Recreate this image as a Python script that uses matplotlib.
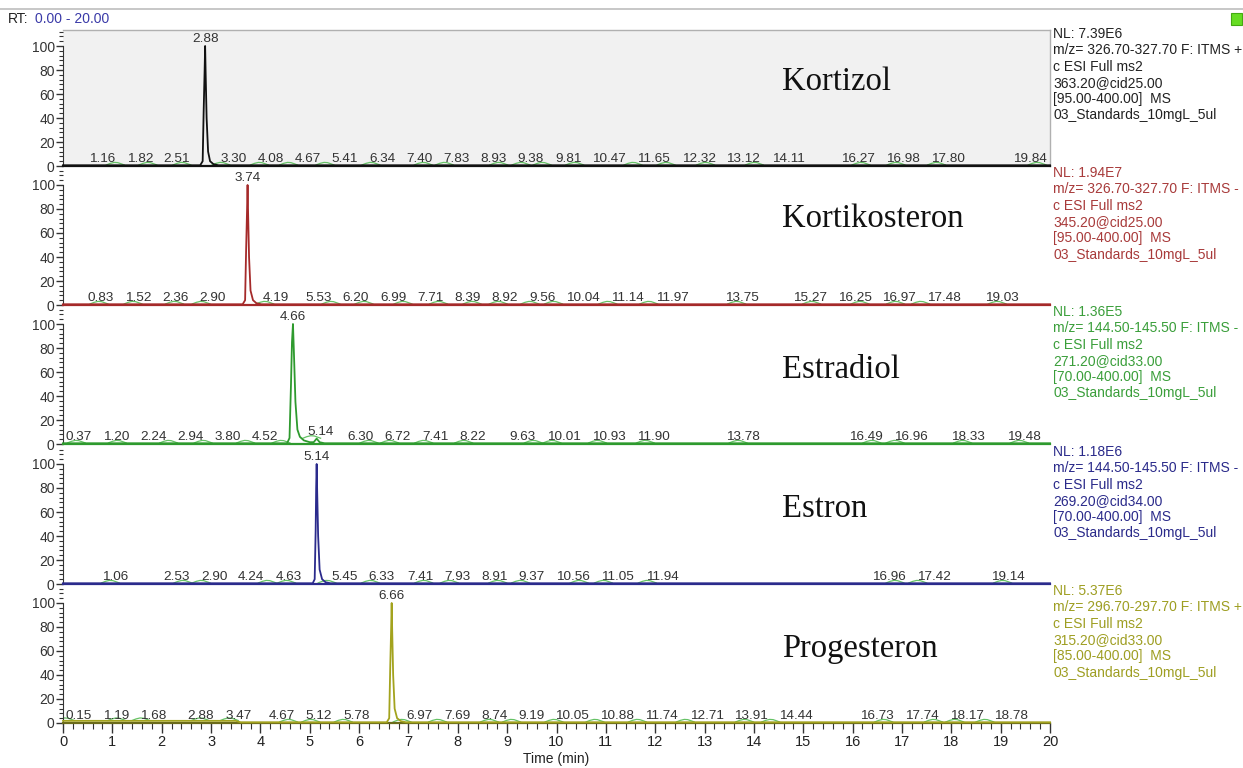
import numpy as np
import matplotlib
matplotlib.use("Agg")
import matplotlib.pyplot as plt
from matplotlib.ticker import MultipleLocator
from matplotlib.lines import Line2D
from matplotlib.patches import Rectangle

# ---------------- data ----------------
names = ["Kortizol", "Kortikosteron", "Estradiol", "Estron", "Progesteron"]
name_y = [70, 72, 62, 63, 62]
colors = ["#111111", "#a52a2a", "#2e9a2e", "#2b2b8c", "#a3a31e"]
info_colors = ["#222222", "#a83a3a", "#3a9e3a", "#2a2a8a", "#9e9e22"]

main_rt = [2.88, 3.74, 4.66, 5.14, 6.66]

labels_1 = [1.16, 1.82, 2.51, 3.30, 4.08, 4.67, 5.41, 6.34, 7.40, 7.83, 8.93, 9.38,
            9.81, 10.47, 11.65, 12.32, 13.12, 14.11, 16.27, 16.98, 17.80, 19.84]
labels_2 = [0.83, 1.52, 2.36, 2.90, 4.19, 5.53, 6.20, 6.99, 7.71, 8.39, 8.92, 9.56,
            10.04, 11.14, 11.97, 13.75, 15.27, 16.25, 16.97, 17.48, 19.03]
labels_3 = [0.37, 1.20, 2.24, 2.94, 3.80, 4.52, 5.14, 6.30, 6.72, 7.41, 8.22, 9.63,
            10.01, 10.93, 11.90, 13.78, 16.49, 16.96, 18.33, 19.48]
labels_4 = [1.06, 2.53, 2.90, 4.24, 4.63, 5.45, 6.33, 7.41, 7.93, 8.91, 9.37, 10.56,
            11.05, 11.94, 16.96, 17.42, 19.14]
labels_5 = [0.15, 1.19, 1.68, 2.88, 3.47, 4.67, 5.12, 5.78, 6.97, 7.69, 8.74, 9.19,
            10.05, 10.88, 11.74, 12.71, 13.91, 14.44, 16.73, 17.74, 18.17, 18.78]
small_labels = [labels_1, labels_2, labels_3, labels_4, labels_5]

# chromatogram traces (time in min, relative abundance %)
t1 = [0, 2.78, 2.83, 2.85, 2.87, 2.88, 2.89, 2.91, 2.94, 2.98, 3.05, 3.15, 20]
i1 = [0.6, 0.6, 4, 45, 80, 100, 78, 40, 12, 4, 1.5, 0.6, 0.6]
t2 = [0, 3.64, 3.69, 3.71, 3.73, 3.74, 3.75, 3.77, 3.80, 3.85, 3.92, 4.02, 20]
i2 = [0.6, 0.6, 4, 45, 80, 100, 78, 40, 12, 4, 1.5, 0.6, 0.6]
t3 = [0, 4.54, 4.59, 4.62, 4.64, 4.66, 4.68, 4.71, 4.75, 4.80, 4.88, 5.00,
      5.08, 5.14, 5.20, 5.30, 20]
i3 = [0.6, 0.6, 5, 50, 85, 100, 75, 35, 12, 6, 3, 1.5, 1.5, 4.5, 1.5, 0.6, 0.6]
t4 = [0, 5.06, 5.10, 5.12, 5.13, 5.14, 5.15, 5.17, 5.20, 5.25, 5.32, 5.42, 20]
i4 = [0.6, 0.6, 4, 45, 80, 100, 78, 40, 12, 4, 1.5, 0.6, 0.6]
t5 = [0, 3.50, 3.60, 6.56, 6.61, 6.63, 6.65, 6.66, 6.67, 6.69, 6.72, 6.77, 6.85, 6.95, 20]
i5 = [1.8, 1.8, 0.6, 0.6, 4, 45, 80, 100, 78, 40, 12, 4, 1.5, 0.6, 0.6]
traces_t = [t1, t2, t3, t4, t5]
traces_i = [i1, i2, i3, i4, i5]

info = [
    ["NL: 7.39E6", "m/z= 326.70-327.70 F: ITMS +", "c ESI Full ms2",
     "363.20@cid25.00", "[95.00-400.00]  MS", "03_Standards_10mgL_5ul"],
    ["NL: 1.94E7", "m/z= 326.70-327.70 F: ITMS -", "c ESI Full ms2",
     "345.20@cid25.00", "[95.00-400.00]  MS", "03_Standards_10mgL_5ul"],
    ["NL: 1.36E5", "m/z= 144.50-145.50 F: ITMS -", "c ESI Full ms2",
     "271.20@cid33.00", "[70.00-400.00]  MS", "03_Standards_10mgL_5ul"],
    ["NL: 1.18E6", "m/z= 144.50-145.50 F: ITMS -", "c ESI Full ms2",
     "269.20@cid34.00", "[70.00-400.00]  MS", "03_Standards_10mgL_5ul"],
    ["NL: 5.37E6", "m/z= 296.70-297.70 F: ITMS +", "c ESI Full ms2",
     "315.20@cid33.00", "[85.00-400.00]  MS", "03_Standards_10mgL_5ul"],
]

# ---------------- layout ----------------
W, H = 1243, 768
fig = plt.figure(figsize=(W / 100, H / 100), dpi=100)
fig.patch.set_facecolor("white")
plt.rcParams["font.family"] = ["Liberation Sans", "DejaVu Sans"]

x0_px, x1_px = 63, 1050
px_per_min = (x1_px - x0_px) / 20.0
baselines = [166, 305, 444, 584, 723]
panel_h = 136
ytop = 100 * panel_h / 120.0

label_fs = 9.7
label_color = "#333333"
squig_dx = np.array([-0.28, -0.2, -0.12, -0.05, 0.02, 0.08])
squig_dy = np.array([0.3, 1.6, 2.4, 2.2, 1.2, 0.3])


def text_width_min(s):
    em = label_fs * 100 / 72.0
    w = sum(0.278 * em if c == "." else 0.556 * em for c in s)
    return w / px_per_min


def layout_labels(values, obstacle):
    """Spread labels so they do not overlap each other or the main peak."""
    vals = list(values)
    texts = [f"{v:.2f}" for v in vals]
    widths = [text_width_min(t) for t in texts]
    items = [[v, w, False] for v, w in zip(vals, widths)]
    items.append([obstacle, 8 / px_per_min, True])
    order = sorted(range(len(items)), key=lambda i: items[i][0])
    pos = [items[i][0] for i in order]
    wid = [items[i][1] for i in order]
    fixed = [items[i][2] for i in order]
    gap = 11 / px_per_min
    for _ in range(600):
        moved = False
        for j in range(len(pos) - 1):
            need = (wid[j] + wid[j + 1]) / 2 + gap
            d = pos[j + 1] - pos[j]
            if d < need - 1e-6:
                ov = need - d
                if fixed[j]:
                    pos[j + 1] += ov
                elif fixed[j + 1]:
                    pos[j] -= ov
                else:
                    pos[j] -= ov / 2
                    pos[j + 1] += ov / 2
                moved = True
        for j in range(len(pos)):
            if not fixed[j]:
                lo = wid[j] / 2 + 3 / px_per_min
                hi = 20 - wid[j] / 2 - 3 / px_per_min
                pos[j] = min(max(pos[j], lo), hi)
        if not moved:
            break
    out = {}
    for k, i in enumerate(order):
        if not items[i][2]:
            out[i] = pos[k]
    return [out[i] for i in range(len(vals))]


for k in range(5):
    b = baselines[k]
    ax = fig.add_axes([x0_px / W, 1 - b / H, (x1_px - x0_px) / W, panel_h / H])
    ax.set_xlim(0, 20)
    ax.set_ylim(0, ytop)
    if k == 0:
        ax.set_facecolor("#f1f1f1")
        for s in ["top", "right"]:
            ax.spines[s].set_color("#b0b0b0")
            ax.spines[s].set_linewidth(1.0)
    else:
        ax.set_facecolor("none")
        ax.spines["top"].set_visible(False)
        ax.spines["right"].set_visible(False)
    ax.spines["left"].set_bounds(0, 100)
    ax.spines["left"].set_color("#333333")
    ax.spines["bottom"].set_color(colors[k] if k < 4 else "#6b6b1a")
    ax.spines["bottom"].set_linewidth(1.6)

    ax.yaxis.set_minor_locator(MultipleLocator(4))
    ax.set_yticks([0, 20, 40, 60, 80, 100])
    ax.tick_params(axis="y", which="major", length=5, width=1, color="#333333",
                   labelsize=10, labelcolor="#333333", pad=1)
    ax.tick_params(axis="y", which="minor", length=3, width=0.8, color="#333333")

    if k < 4:
        ax.tick_params(axis="x", which="both", bottom=False, labelbottom=False)
    else:
        ax.xaxis.set_major_locator(MultipleLocator(1))
        ax.xaxis.set_minor_locator(MultipleLocator(0.2))
        ax.tick_params(axis="x", which="major", length=7, width=1, color="#333333",
                       labelsize=10.5, labelcolor="#222222", pad=2)
        ax.tick_params(axis="x", which="minor", length=4, width=0.8, color="#333333")

    tt = np.array(traces_t[k])
    ii = np.array(traces_i[k])
    ax.plot(tt, ii, color=colors[k], lw=1.3, clip_on=False, zorder=3)

    # small peak markers and labels
    lab_x = layout_labels(small_labels[k], main_rt[k])
    for v, lx in zip(small_labels[k], lab_x):
        base = np.interp(v, tt, ii)
        ax.plot(v + squig_dx, base + squig_dy, color="#66c266", lw=0.9, zorder=2)
        ly = 1.2 if base < 2 else base + 0.6
        ax.text(lx, ly, f"{v:.2f}", ha="center", va="bottom",
                fontsize=label_fs, color=label_color, zorder=4)
    # main peak label
    ax.text(main_rt[k], 101, f"{main_rt[k]:.2f}", ha="center", va="bottom",
            fontsize=label_fs, color=label_color, zorder=4)

    # compound name
    ax.text((782 - x0_px) / px_per_min, name_y[k], names[k],
            ha="left", va="center", fontsize=23.5,
            family=["Liberation Serif", "DejaVu Serif"], color="#111111")

    # info text block on the right
    for j, line in enumerate(info[k]):
        fig.text(1053 / W, 1 - (b - 132 + j * 16.3) / H, line, ha="left", va="center",
                 fontsize=10, color=info_colors[k])

# x-axis title
fig.text(556 / W, 1 - 759 / H, "Time (min)", ha="center", va="center",
         fontsize=10, color="#222222")

# header
fig.add_artist(Line2D([0, 1], [1 - 9 / H, 1 - 9 / H], color="#bdbdbd", lw=1.2))
fig.text(8 / W, 1 - 19 / H, "RT:", ha="left", va="center", fontsize=10, color="#222222")
fig.text(35 / W, 1 - 19 / H, "0.00 - 20.00", ha="left", va="center", fontsize=10,
         color="#3a3aa8")
fig.add_artist(Rectangle((1231 / W, 1 - 25 / H), 11 / W, 12 / H, facecolor="#66dd22",
                         edgecolor="#44aa11", lw=0.8))

fig.savefig("out.png", dpi=100, facecolor="white")
